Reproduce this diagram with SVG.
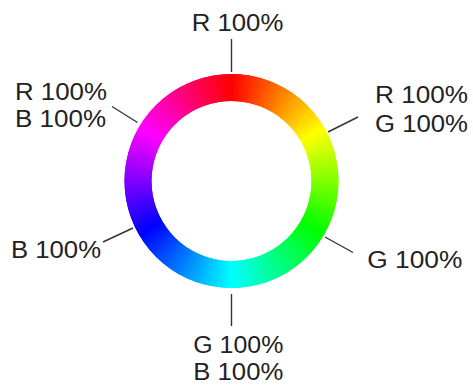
<svg xmlns="http://www.w3.org/2000/svg" width="473" height="388" viewBox="0 0 473 388">
<style>
.lbl{font-family:"Liberation Sans",Arial,Helvetica,sans-serif;font-size:23px;fill:#222;}
.lead{stroke:#333;stroke-width:1.4;fill:none;}
.seg{fill:none;stroke-width:27;stroke-linecap:butt;}
</style>
<defs>
<linearGradient id="g0" gradientUnits="userSpaceOnUse" x1="231.5" y1="87.5" x2="247.736" y2="88.92"><stop offset="0" stop-color="#ff0000"/><stop offset="1" stop-color="#ff2b00"/></linearGradient>
<linearGradient id="g1" gradientUnits="userSpaceOnUse" x1="247.736" y1="88.92" x2="263.479" y2="93.139"><stop offset="0" stop-color="#ff2b00"/><stop offset="1" stop-color="#ff5500"/></linearGradient>
<linearGradient id="g2" gradientUnits="userSpaceOnUse" x1="263.479" y1="93.139" x2="278.25" y2="100.026"><stop offset="0" stop-color="#ff5500"/><stop offset="1" stop-color="#ff8000"/></linearGradient>
<linearGradient id="g3" gradientUnits="userSpaceOnUse" x1="278.25" y1="100.026" x2="291.601" y2="109.375"><stop offset="0" stop-color="#ff8000"/><stop offset="1" stop-color="#ffaa00"/></linearGradient>
<linearGradient id="g4" gradientUnits="userSpaceOnUse" x1="291.601" y1="109.375" x2="303.125" y2="120.899"><stop offset="0" stop-color="#ffaa00"/><stop offset="1" stop-color="#ffd500"/></linearGradient>
<linearGradient id="g5" gradientUnits="userSpaceOnUse" x1="303.125" y1="120.899" x2="312.474" y2="134.25"><stop offset="0" stop-color="#ffd500"/><stop offset="1" stop-color="#ffff00"/></linearGradient>
<linearGradient id="g6" gradientUnits="userSpaceOnUse" x1="312.474" y1="134.25" x2="319.361" y2="149.021"><stop offset="0" stop-color="#ffff00"/><stop offset="1" stop-color="#d5ff00"/></linearGradient>
<linearGradient id="g7" gradientUnits="userSpaceOnUse" x1="319.361" y1="149.021" x2="323.58" y2="164.764"><stop offset="0" stop-color="#d5ff00"/><stop offset="1" stop-color="#aaff00"/></linearGradient>
<linearGradient id="g8" gradientUnits="userSpaceOnUse" x1="323.58" y1="164.764" x2="325" y2="181"><stop offset="0" stop-color="#aaff00"/><stop offset="1" stop-color="#80ff00"/></linearGradient>
<linearGradient id="g9" gradientUnits="userSpaceOnUse" x1="325" y1="181" x2="323.58" y2="197.236"><stop offset="0" stop-color="#80ff00"/><stop offset="1" stop-color="#55ff00"/></linearGradient>
<linearGradient id="g10" gradientUnits="userSpaceOnUse" x1="323.58" y1="197.236" x2="319.361" y2="212.979"><stop offset="0" stop-color="#55ff00"/><stop offset="1" stop-color="#2bff00"/></linearGradient>
<linearGradient id="g11" gradientUnits="userSpaceOnUse" x1="319.361" y1="212.979" x2="312.474" y2="227.75"><stop offset="0" stop-color="#2bff00"/><stop offset="1" stop-color="#00ff00"/></linearGradient>
<linearGradient id="g12" gradientUnits="userSpaceOnUse" x1="312.474" y1="227.75" x2="303.125" y2="241.101"><stop offset="0" stop-color="#00ff00"/><stop offset="1" stop-color="#00ff2b"/></linearGradient>
<linearGradient id="g13" gradientUnits="userSpaceOnUse" x1="303.125" y1="241.101" x2="291.601" y2="252.625"><stop offset="0" stop-color="#00ff2b"/><stop offset="1" stop-color="#00ff55"/></linearGradient>
<linearGradient id="g14" gradientUnits="userSpaceOnUse" x1="291.601" y1="252.625" x2="278.25" y2="261.974"><stop offset="0" stop-color="#00ff55"/><stop offset="1" stop-color="#00ff80"/></linearGradient>
<linearGradient id="g15" gradientUnits="userSpaceOnUse" x1="278.25" y1="261.974" x2="263.479" y2="268.861"><stop offset="0" stop-color="#00ff80"/><stop offset="1" stop-color="#00ffaa"/></linearGradient>
<linearGradient id="g16" gradientUnits="userSpaceOnUse" x1="263.479" y1="268.861" x2="247.736" y2="273.08"><stop offset="0" stop-color="#00ffaa"/><stop offset="1" stop-color="#00ffd5"/></linearGradient>
<linearGradient id="g17" gradientUnits="userSpaceOnUse" x1="247.736" y1="273.08" x2="231.5" y2="274.5"><stop offset="0" stop-color="#00ffd5"/><stop offset="1" stop-color="#00ffff"/></linearGradient>
<linearGradient id="g18" gradientUnits="userSpaceOnUse" x1="231.5" y1="274.5" x2="215.264" y2="273.08"><stop offset="0" stop-color="#00ffff"/><stop offset="1" stop-color="#00d5ff"/></linearGradient>
<linearGradient id="g19" gradientUnits="userSpaceOnUse" x1="215.264" y1="273.08" x2="199.521" y2="268.861"><stop offset="0" stop-color="#00d5ff"/><stop offset="1" stop-color="#00aaff"/></linearGradient>
<linearGradient id="g20" gradientUnits="userSpaceOnUse" x1="199.521" y1="268.861" x2="184.75" y2="261.974"><stop offset="0" stop-color="#00aaff"/><stop offset="1" stop-color="#0080ff"/></linearGradient>
<linearGradient id="g21" gradientUnits="userSpaceOnUse" x1="184.75" y1="261.974" x2="171.399" y2="252.625"><stop offset="0" stop-color="#0080ff"/><stop offset="1" stop-color="#0055ff"/></linearGradient>
<linearGradient id="g22" gradientUnits="userSpaceOnUse" x1="171.399" y1="252.625" x2="159.875" y2="241.101"><stop offset="0" stop-color="#0055ff"/><stop offset="1" stop-color="#002bff"/></linearGradient>
<linearGradient id="g23" gradientUnits="userSpaceOnUse" x1="159.875" y1="241.101" x2="150.526" y2="227.75"><stop offset="0" stop-color="#002bff"/><stop offset="1" stop-color="#0000ff"/></linearGradient>
<linearGradient id="g24" gradientUnits="userSpaceOnUse" x1="150.526" y1="227.75" x2="143.639" y2="212.979"><stop offset="0" stop-color="#0000ff"/><stop offset="1" stop-color="#2b00ff"/></linearGradient>
<linearGradient id="g25" gradientUnits="userSpaceOnUse" x1="143.639" y1="212.979" x2="139.42" y2="197.236"><stop offset="0" stop-color="#2b00ff"/><stop offset="1" stop-color="#5500ff"/></linearGradient>
<linearGradient id="g26" gradientUnits="userSpaceOnUse" x1="139.42" y1="197.236" x2="138" y2="181"><stop offset="0" stop-color="#5500ff"/><stop offset="1" stop-color="#8000ff"/></linearGradient>
<linearGradient id="g27" gradientUnits="userSpaceOnUse" x1="138" y1="181" x2="139.42" y2="164.764"><stop offset="0" stop-color="#8000ff"/><stop offset="1" stop-color="#aa00ff"/></linearGradient>
<linearGradient id="g28" gradientUnits="userSpaceOnUse" x1="139.42" y1="164.764" x2="143.639" y2="149.021"><stop offset="0" stop-color="#aa00ff"/><stop offset="1" stop-color="#d500ff"/></linearGradient>
<linearGradient id="g29" gradientUnits="userSpaceOnUse" x1="143.639" y1="149.021" x2="150.526" y2="134.25"><stop offset="0" stop-color="#d500ff"/><stop offset="1" stop-color="#ff00ff"/></linearGradient>
<linearGradient id="g30" gradientUnits="userSpaceOnUse" x1="150.526" y1="134.25" x2="159.875" y2="120.899"><stop offset="0" stop-color="#ff00ff"/><stop offset="1" stop-color="#ff00d5"/></linearGradient>
<linearGradient id="g31" gradientUnits="userSpaceOnUse" x1="159.875" y1="120.899" x2="171.399" y2="109.375"><stop offset="0" stop-color="#ff00d5"/><stop offset="1" stop-color="#ff00aa"/></linearGradient>
<linearGradient id="g32" gradientUnits="userSpaceOnUse" x1="171.399" y1="109.375" x2="184.75" y2="100.026"><stop offset="0" stop-color="#ff00aa"/><stop offset="1" stop-color="#ff0080"/></linearGradient>
<linearGradient id="g33" gradientUnits="userSpaceOnUse" x1="184.75" y1="100.026" x2="199.521" y2="93.139"><stop offset="0" stop-color="#ff0080"/><stop offset="1" stop-color="#ff0055"/></linearGradient>
<linearGradient id="g34" gradientUnits="userSpaceOnUse" x1="199.521" y1="93.139" x2="215.264" y2="88.92"><stop offset="0" stop-color="#ff0055"/><stop offset="1" stop-color="#ff002b"/></linearGradient>
<linearGradient id="g35" gradientUnits="userSpaceOnUse" x1="215.264" y1="88.92" x2="231.5" y2="87.5"><stop offset="0" stop-color="#ff002b"/><stop offset="1" stop-color="#ff0000"/></linearGradient>
</defs>
<rect width="473" height="388" fill="#ffffff"/>
<g id="color-ring">
<path class="seg" stroke="url(#g0)" d="M231.5 87.5A93.5 93.5 0 0 1 263.479 93.139"/>
<path class="seg" stroke="url(#g1)" d="M247.736 88.92A93.5 93.5 0 0 1 278.25 100.026"/>
<path class="seg" stroke="url(#g2)" d="M263.479 93.139A93.5 93.5 0 0 1 291.601 109.375"/>
<path class="seg" stroke="url(#g3)" d="M278.25 100.026A93.5 93.5 0 0 1 303.125 120.899"/>
<path class="seg" stroke="url(#g4)" d="M291.601 109.375A93.5 93.5 0 0 1 312.474 134.25"/>
<path class="seg" stroke="url(#g5)" d="M303.125 120.899A93.5 93.5 0 0 1 319.361 149.021"/>
<path class="seg" stroke="url(#g6)" d="M312.474 134.25A93.5 93.5 0 0 1 323.58 164.764"/>
<path class="seg" stroke="url(#g7)" d="M319.361 149.021A93.5 93.5 0 0 1 325 181"/>
<path class="seg" stroke="url(#g8)" d="M323.58 164.764A93.5 93.5 0 0 1 323.58 197.236"/>
<path class="seg" stroke="url(#g9)" d="M325 181A93.5 93.5 0 0 1 319.361 212.979"/>
<path class="seg" stroke="url(#g10)" d="M323.58 197.236A93.5 93.5 0 0 1 312.474 227.75"/>
<path class="seg" stroke="url(#g11)" d="M319.361 212.979A93.5 93.5 0 0 1 303.125 241.101"/>
<path class="seg" stroke="url(#g12)" d="M312.474 227.75A93.5 93.5 0 0 1 291.601 252.625"/>
<path class="seg" stroke="url(#g13)" d="M303.125 241.101A93.5 93.5 0 0 1 278.25 261.974"/>
<path class="seg" stroke="url(#g14)" d="M291.601 252.625A93.5 93.5 0 0 1 263.479 268.861"/>
<path class="seg" stroke="url(#g15)" d="M278.25 261.974A93.5 93.5 0 0 1 247.736 273.08"/>
<path class="seg" stroke="url(#g16)" d="M263.479 268.861A93.5 93.5 0 0 1 231.5 274.5"/>
<path class="seg" stroke="url(#g17)" d="M247.736 273.08A93.5 93.5 0 0 1 215.264 273.08"/>
<path class="seg" stroke="url(#g18)" d="M231.5 274.5A93.5 93.5 0 0 1 199.521 268.861"/>
<path class="seg" stroke="url(#g19)" d="M215.264 273.08A93.5 93.5 0 0 1 184.75 261.974"/>
<path class="seg" stroke="url(#g20)" d="M199.521 268.861A93.5 93.5 0 0 1 171.399 252.625"/>
<path class="seg" stroke="url(#g21)" d="M184.75 261.974A93.5 93.5 0 0 1 159.875 241.101"/>
<path class="seg" stroke="url(#g22)" d="M171.399 252.625A93.5 93.5 0 0 1 150.526 227.75"/>
<path class="seg" stroke="url(#g23)" d="M159.875 241.101A93.5 93.5 0 0 1 143.639 212.979"/>
<path class="seg" stroke="url(#g24)" d="M150.526 227.75A93.5 93.5 0 0 1 139.42 197.236"/>
<path class="seg" stroke="url(#g25)" d="M143.639 212.979A93.5 93.5 0 0 1 138 181"/>
<path class="seg" stroke="url(#g26)" d="M139.42 197.236A93.5 93.5 0 0 1 139.42 164.764"/>
<path class="seg" stroke="url(#g27)" d="M138 181A93.5 93.5 0 0 1 143.639 149.021"/>
<path class="seg" stroke="url(#g28)" d="M139.42 164.764A93.5 93.5 0 0 1 150.526 134.25"/>
<path class="seg" stroke="url(#g29)" d="M143.639 149.021A93.5 93.5 0 0 1 159.875 120.899"/>
<path class="seg" stroke="url(#g30)" d="M150.526 134.25A93.5 93.5 0 0 1 171.399 109.375"/>
<path class="seg" stroke="url(#g31)" d="M159.875 120.899A93.5 93.5 0 0 1 184.75 100.026"/>
<path class="seg" stroke="url(#g32)" d="M171.399 109.375A93.5 93.5 0 0 1 199.521 93.139"/>
<path class="seg" stroke="url(#g33)" d="M184.75 100.026A93.5 93.5 0 0 1 215.264 88.92"/>
<path class="seg" stroke="url(#g34)" d="M199.521 93.139A93.5 93.5 0 0 1 231.5 87.5"/>
<path class="seg" stroke="url(#g35)" d="M215.264 88.92A93.5 93.5 0 0 1 247.736 88.92"/>
<path class="seg" stroke="url(#g0)" d="M231.5 87.5A93.5 93.5 0 0 1 247.736 88.92"/>
</g>
<g id="connectors">
<line class="lead" x1="231.5" y1="39" x2="231.5" y2="72"/>
<line class="lead" x1="358" y1="117" x2="328" y2="132"/>
<line class="lead" x1="353" y1="252.5" x2="325" y2="237"/>
<line class="lead" x1="231.5" y1="326" x2="231.5" y2="294"/>
<line class="lead" x1="103" y1="242" x2="133" y2="228"/>
<line class="lead" x1="112" y1="106.5" x2="137.5" y2="122.5"/>
</g>
<g id="label-red">
<text class="lbl" x="191.7" y="30.7" textLength="91.6" lengthAdjust="spacingAndGlyphs">R 100%</text>
</g>
<g id="label-yellow">
<text class="lbl" x="375" y="103.3" textLength="93" lengthAdjust="spacingAndGlyphs">R 100%</text>
<text class="lbl" x="375" y="131.7" textLength="93" lengthAdjust="spacingAndGlyphs">G 100%</text>
</g>
<g id="label-green">
<text class="lbl" x="367.3" y="268.3" textLength="95" lengthAdjust="spacingAndGlyphs">G 100%</text>
</g>
<g id="label-cyan">
<text class="lbl" x="193.3" y="353.3" textLength="90" lengthAdjust="spacingAndGlyphs">G 100%</text>
<text class="lbl" x="193.3" y="380" textLength="90" lengthAdjust="spacingAndGlyphs">B 100%</text>
</g>
<g id="label-blue">
<text class="lbl" x="11" y="258.3" textLength="90" lengthAdjust="spacingAndGlyphs">B 100%</text>
</g>
<g id="label-magenta">
<text class="lbl" x="15" y="100" textLength="92" lengthAdjust="spacingAndGlyphs">R 100%</text>
<text class="lbl" x="15" y="127.3" textLength="91" lengthAdjust="spacingAndGlyphs">B 100%</text>
</g>
</svg>
